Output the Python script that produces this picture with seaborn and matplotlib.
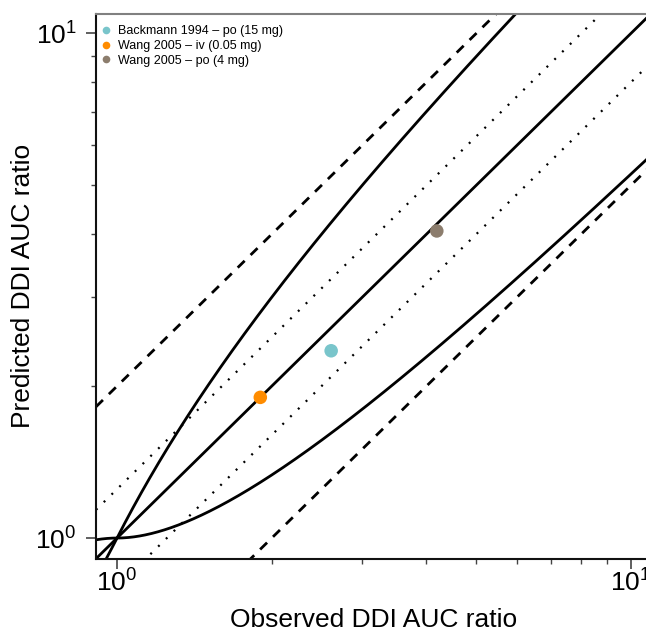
import numpy as np
import pandas as pd
import matplotlib
matplotlib.use("Agg")
import matplotlib.pyplot as plt
import seaborn as sns

# Observed vs predicted DDI AUC ratios
studies = ["Backmann 1994 \u2013 po (15 mg)",
           "Wang 2005 \u2013 iv (0.05 mg)",
           "Wang 2005 \u2013 po (4 mg)"]
observed = [2.61, 1.90, 4.19]
predicted = [2.35, 1.90, 4.06]
colors = ["#79C5CB", "#FF8C00", "#8C7D6D"]

axis_lim = (0.91, 10.94)

sns.set_style("ticks")
plt.rcParams["font.family"] = ["Liberation Sans", "DejaVu Sans"]
plt.rcParams["mathtext.fontset"] = "custom"
plt.rcParams["mathtext.rm"] = "Liberation Sans"
plt.rcParams["mathtext.it"] = "Liberation Sans"
plt.rcParams["mathtext.default"] = "regular"
plt.rcParams["axes.labelcolor"] = "black"
plt.rcParams["text.color"] = "black"

df = pd.DataFrame({"Study": studies, "Observed": observed, "Predicted": predicted})

fig = plt.figure(figsize=(6.46, 6.37), dpi=100)
ax = fig.add_axes([96 / 646, 78.3 / 637, 555 / 646, 545 / 637])
ax.set_xscale("log")
ax.set_yscale("log")
ax.set_xlim(axis_lim)
ax.set_ylim(axis_lim)

# Reference lines: unity, 1.25-fold, 2-fold and Guest et al. limits
r = np.logspace(np.log10(axis_lim[0]), np.log10(axis_lim[1]), 600)
rr = np.where(r >= 1, r, 1 / r)
guest = (1 + 2 * (rr - 1)) / rr
lw = 2.0
ax.plot(r, r, color="black", lw=lw, zorder=2)
ax.plot(r, r * guest, color="black", lw=lw, zorder=2)
ax.plot(r, r / guest, color="black", lw=lw, zorder=2)
for f in (1.25, 1 / 1.25):
    ax.plot(r, r * f, color="black", lw=1.6, dashes=(0.9, 4.0),
            dash_capstyle="butt", zorder=2)
for f in (2.0, 0.5):
    ax.plot(r, r * f, color="black", lw=lw, dashes=(3.5, 3.0), zorder=2)

sns.scatterplot(data=df, x="Observed", y="Predicted", hue="Study",
                hue_order=studies, palette=colors, s=95, linewidth=0,
                ax=ax, zorder=3, legend=True)

handles, labels = ax.get_legend_handles_labels()
for h in handles:
    h.set_markersize(5.5)
ax.legend(handles, labels, loc="upper left", bbox_to_anchor=(-0.015, 0.995),
          frameon=False, fontsize=9, handletextpad=0.1, labelspacing=0.22,
          handlelength=1.6, borderaxespad=0.3, labelcolor="black")

ax.set_xlabel("Observed DDI AUC ratio", fontsize=19, labelpad=8, color="black")
ax.set_ylabel("Predicted DDI AUC ratio", fontsize=19, labelpad=0, color="black")

ax.tick_params(axis="both", which="major", length=7, width=1.2,
               labelsize=19, color="#444444", labelcolor="black")
ax.tick_params(axis="both", which="minor", length=3.6, width=1.0,
               color="#444444")
ax.tick_params(axis="x", which="major", pad=1)
ax.tick_params(axis="y", which="major", pad=7)

for side in ("left", "bottom"):
    ax.spines[side].set_color("#111111")
    ax.spines[side].set_linewidth(1.5)
for side in ("top", "right"):
    ax.spines[side].set_visible(True)
    ax.spines[side].set_color("#808080")
    ax.spines[side].set_linewidth(1.5)

fig.savefig("out.png", dpi=100)
